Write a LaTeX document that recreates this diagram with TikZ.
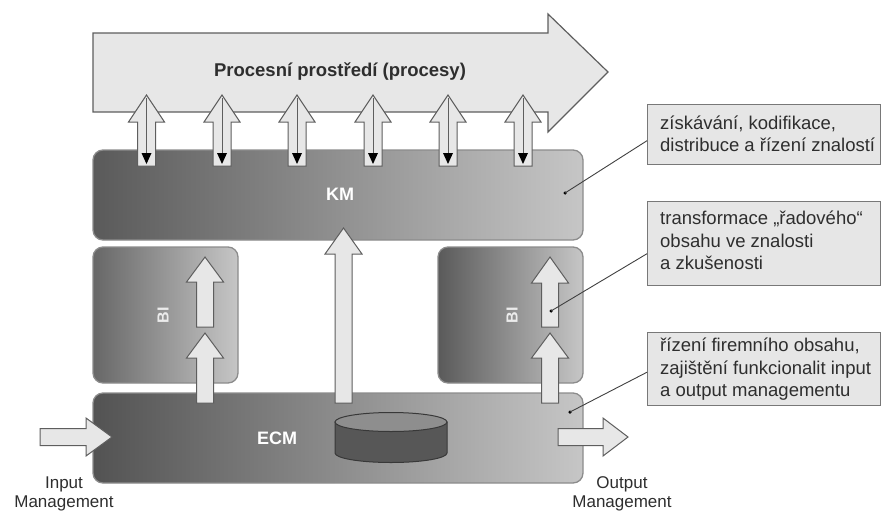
\documentclass[tikz,border=0pt]{standalone}
\usepackage{fontspec}
\setmainfont{Liberation Sans}
\usetikzlibrary{calc}

\definecolor{arrfill}{HTML}{E7E7E7}
\definecolor{arrline}{HTML}{5E5E5E}
\definecolor{panelline}{HTML}{8C8C8C}
\definecolor{notefill}{HTML}{E6E6E6}
\definecolor{noteline}{HTML}{787878}
\definecolor{notetext}{HTML}{2E2E2E}
\definecolor{leader}{HTML}{404040}
\definecolor{darkL}{HTML}{5A5A5A}
\definecolor{lightR}{HTML}{C6C6C6}
\definecolor{cylside}{HTML}{575757}
\definecolor{cyltop}{HTML}{8E8E8E}
\definecolor{cylline}{HTML}{383838}

% vertical block arrow: x, tip y, head base y, tail y
\newcommand\UpArr[4]{%
  \filldraw[blockarr] (#1-8.5,#4) -- (#1-8.5,#3) -- (#1-18.5,#3) -- (#1,#2)
    -- (#1+18.5,#3) -- (#1+8.5,#3) -- (#1+8.5,#4) -- cycle;}

% two-way link between the process layer and KM
\newcommand\TwoWay[1]{%
  \filldraw[blockarr] (#1-9,166) -- (#1-9,122) -- (#1-18,122) -- (#1,95)
    -- (#1+18,122) -- (#1+9,122) -- (#1+9,166) -- cycle;
  \draw[arrline, line width=0.8pt] (#1,98) -- (#1,154);
  \fill[black] (#1-5,153) -- (#1+5,153) -- (#1,164) -- cycle;}

\begin{document}
\begin{tikzpicture}[x=1pt,y=-1pt,
  panel/.style={draw=panelline, line width=1.3pt, rounded corners=10pt,
    inner sep=0pt, left color=darkL, right color=lightR},
  blockarr/.style={fill=arrfill, draw=arrline, line width=1pt, line join=miter},
  note/.style={draw=noteline, fill=notefill, line width=1.4pt, inner sep=0pt,
    minimum width=233pt, anchor=north west},
  notetxt/.style={anchor=west, inner sep=0pt, align=left,
    font=\fontsize{18.5}{22.5}\selectfont, text=notetext},
  pin/.style={draw=leader, line width=0.9pt},
  dot/.style={circle, fill=black, inner sep=0pt, minimum size=3.5pt},
  boxlabel/.style={font=\fontsize{18}{20}\selectfont\bfseries, text=white},
  bilabel/.style={font=\fontsize{16}{18}\selectfont\bfseries, text=white!92!black, rotate=90},
  iolabel/.style={align=center, font=\fontsize{17}{18.5}\selectfont, text=notetext},
]
\useasboundingbox (0,0) rectangle (882,512);

% process layer
\filldraw[fill=arrfill, draw=arrline, line width=1.2pt, line join=miter]
  (93,33) -- (548,33) -- (548,14) -- (608,72) -- (548,132) -- (548,112) -- (93,112) -- cycle;
\node[font=\fontsize{18.5}{20}\selectfont\bfseries, text=notetext] (proc) at (340,72)
  {Procesní prostředí (procesy)};

% layers
\node[panel, minimum width=490pt, minimum height=90pt] (km) at (338,195) {};
\node[boxlabel] (kmlbl) at (340,194) {KM};

\node[panel, minimum width=145pt, minimum height=136pt, left color=darkL!92!white] (bil) at (165.5,315) {};
\node[bilabel] (bill) at (163,315) {BI};

\node[panel, minimum width=145pt, minimum height=136pt] (bir) at (510.5,315) {};
\node[bilabel] (birl) at (512,315) {BI};

\node[panel, minimum width=490pt, minimum height=90pt, left color=darkL!92!black] (ecm) at (338,438) {};
\node[boxlabel] (ecmlbl) at (277,438) {ECM};

% repository
\filldraw[fill=cylside, draw=cylline, line width=1pt]
  (335,422) -- (335,453) arc[start angle=180, end angle=0, x radius=56, y radius=9.5]
  -- (447,422) -- cycle;
\filldraw[fill=cyltop, draw=cylline, line width=1pt]
  (391,422) ellipse [x radius=56, y radius=9.5];

% flows
\foreach \c in {146.5,222,297,373,448,523} {\TwoWay{\c}}
\UpArr{205}{257}{282}{327}
\UpArr{205}{333}{358}{403}
\UpArr{550}{257}{283}{327}
\UpArr{550}{333}{358}{403}
\UpArr{343.5}{228}{254}{403}

\filldraw[blockarr] (40,428.5) -- (86,428.5) -- (86,418) -- (112,437) -- (86,456)
  -- (86,445.5) -- (40,445.5) -- cycle;
\filldraw[blockarr] (558,428.5) -- (603,428.5) -- (603,418) -- (628,437) -- (603,456)
  -- (603,445.5) -- (558,445.5) -- cycle;

\node[iolabel] (inlbl) at (64,494) {Input\\Management};
\node[iolabel] (outlbl) at (622,494) {Output\\Management};

% annotations
\node[note, minimum height=60pt] (n1) at (647,104) {};
\node[notetxt] (t1) at ($(n1.west)+(13,-1)$)
  {získávání, kodifikace,\\distribuce a řízení znalostí};
\node[note, minimum height=84pt] (n2) at (647,201) {};
\node[notetxt] (t2) at ($(n2.west)+(13,-3)$)
  {transformace „řadového“\\obsahu ve znalosti\\a zkušenosti};
\node[note, minimum height=73pt] (n3) at (647,332) {};
\node[notetxt] (t3) at ($(n3.west)+(13,0)$)
  {řízení firemního obsahu,\\zajištění funkcionalit input\\a output managementu};

\node[dot] (d1) at (565,193) {};
\node[dot] (d2) at (551,311) {};
\node[dot] (d3) at (570,412) {};

\draw[pin] ($(n1.west)+(0,6)$) -- (d1.center);
\draw[pin] ($(n2.west)+(0,10)$) -- (d2.center);
\draw[pin] ($(n3.west)+(0,3)$) -- (d3.center);
\end{tikzpicture}
\end{document}
